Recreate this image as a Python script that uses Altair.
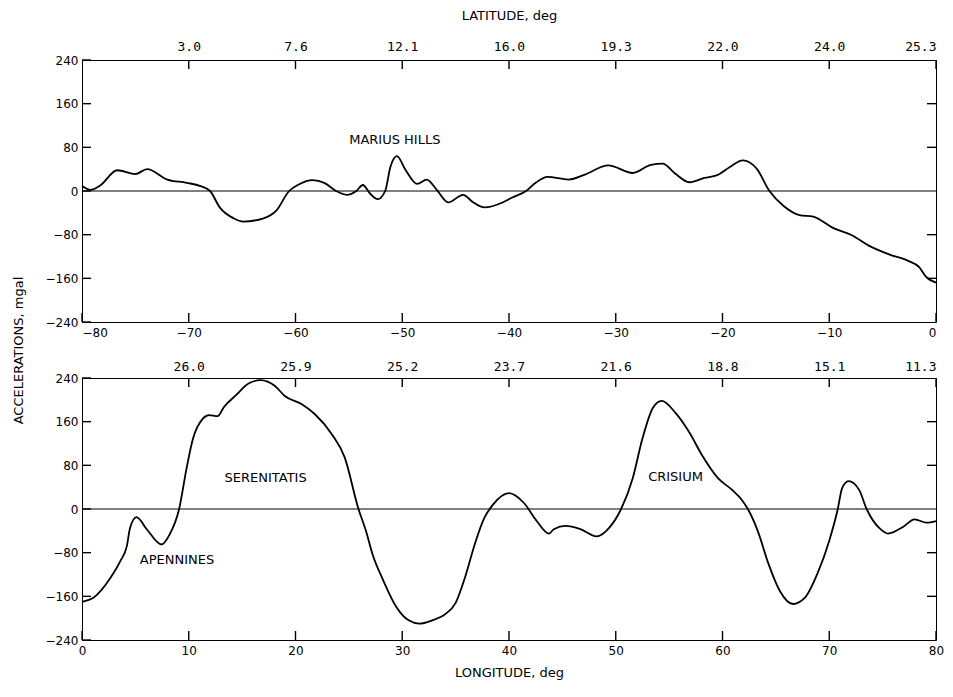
import altair as alt
import pandas as pd

# ---- data ----
# upper panel: longitude (deg) vs acceleration (mgal)
top_lon = [-80, -79.2, -78.3, -76.7, -75.0, -73.9, -72.0, -70.2, -68.9, -68.0, -67.1, -65.8,
           -64.9, -63.0, -61.8, -60.6, -59.7, -58.4, -57.3, -56.2, -55.2, -54.3, -53.7, -53.0,
           -52.3, -51.6, -51.1, -50.5, -49.7, -48.6, -47.7, -46.8, -45.7, -44.3, -43.4, -42.3,
           -40.6, -39.7, -38.4, -37.5, -36.4, -34.4, -32.9, -30.7, -28.4, -26.7, -25.6, -24.5,
           -23.1, -21.7, -20.5, -19.3, -18.1, -16.8, -15.6, -14.3, -12.8, -11.5, -9.7, -7.8,
           -6.3, -4.4, -2.6, -1.6, -0.9, 0]
top_acc = [9, 2, 10, 38, 31, 40, 21, 15, 9, 0, -30, -50,
           -56, -50, -36, 0, 12, 20, 15, 0, -7, 0, 11, -5,
           -15, 0, 45, 64, 39, 13, 21, 3, -21, -7, -20, -30,
           -21, -12, 0, 15, 26, 21, 30, 47, 33, 48, 50, 33,
           16, 24, 29, 44, 56, 41, 0, -27, -44, -47, -67, -82,
           -100, -116, -128, -139, -158, -168]

# lower panel
bot_lon = [0, 1.1, 2.7, 3.6, 4.2, 4.5, 5.1, 6.1, 7.45, 8.2, 9.1, 9.8, 10.4, 11.3, 11.9, 12.7,
           13.3, 14.4, 15.6, 16.7, 18.1, 19.0, 20.6, 21.8, 23.4, 24.6, 25.9, 26.6, 27.2, 28.2,
           29.4, 30.6, 31.6, 32.8, 34.0, 35.0, 35.9, 36.8, 37.7, 38.5, 40.0, 41.4, 42.6, 43.75,
           44.2, 45.3, 46.7, 48.2, 49.4, 50.5, 51.6, 52.5, 53.5, 54.3, 55.6, 56.9, 58.1, 59.6,
           60.9, 61.8, 62.4, 63.3, 64.3, 65.4, 66.6, 67.7, 68.9, 70.0, 70.8, 71.2, 71.8, 72.8,
           73.5, 74.8, 75.5, 76.9, 78.0, 79.1, 80]
bot_acc = [-170, -162, -125, -95, -68, -35, -15, -38, -65, -47, 0, 75, 129, 165, 172, 170,
           187, 208, 230, 236, 225, 207, 192, 174, 137, 95, 0, -40, -82, -130,
           -178, -204, -210, -204, -193, -172, -124, -64, -16, 8, 29, 11, -22, -45,
           -37, -31, -37, -50, -34, 0, 57, 129, 186, 198, 176, 140, 98, 56,
           35, 17, -1, -40, -100, -151, -174, -163, -118, -58, 0, 38, 51, 35,
           0, -37, -45, -33, -19, -25, -22]

acc_ticks = [-240, -160, -80, 0, 80, 160, 240]
right_ticks = [-160, -80, 80, 160]
top_lon_ticks = [-80, -70, -60, -50, -40, -30, -20, -10, 0]
bot_lon_ticks = [0, 10, 20, 30, 40, 50, 60, 70, 80]
top_lat_pos = [-70, -60, -50, -40, -30, -20, -10, 0]
top_lat_labels = ["3.0", "7.6", "12.1", "16.0", "19.3", "22.0", "24.0", "25.3"]
bot_lat_pos = [10, 20, 30, 40, 50, 60, 70, 80]
bot_lat_labels = ["26.0", "25.9", "25.2", "23.7", "21.6", "18.8", "15.1", "11.3"]

top_notes = ["MARIUS HILLS"]
top_notes_lon = [-50.7]
top_notes_acc = [93]
bot_notes = ["SERENITATIS", "APENNINES", "CRISIUM"]
bot_notes_lon = [17.2, 8.9, 55.6]
bot_notes_acc = [57, -93, 59]

FONT = "DejaVu Sans"
MONO = "DejaVu Sans Mono"
W, H = 854, 262
TICK = 9


def lat_expr(pos, labels):
    s = "''"
    for p, l in zip(reversed(pos), reversed(labels)):
        s = f"datum.value == {p} ? '{l}' : " + s
    return s


def panel(lon, acc, notes, notes_lon, notes_acc, lon_ticks, lat_pos, lat_labels,
          domain, is_top):
    xs = alt.Scale(domain=domain, nice=False, zero=False)
    ys = alt.Scale(domain=[-240, 240], nice=False, zero=False)
    common = dict(domain=False, grid=False, ticks=False, labelColor="black")

    bottom_axis = alt.Axis(orient="bottom", values=lon_ticks, format="d",
                           labelFont=FONT, labelFontSize=12, labelPadding=5,
                           labelFlush=is_top,
                           title=None if is_top else "LONGITUDE, deg",
                           titleFont=FONT, titleFontSize=13, titleFontWeight="normal",
                           titleColor="black", titlePadding=10, **common)
    if is_top:
        left_axis = alt.Axis(orient="left", values=acc_ticks, format="d",
                             labelFont=FONT, labelFontSize=12, labelPadding=4,
                             title="ACCELERATIONS, mgal", titleFont=FONT,
                             titleFontSize=13, titleFontWeight="normal",
                             titleColor="black", titleX=-57, titleY=290, **common)
        top_axis = alt.Axis(orient="top", values=lat_pos, labelExpr=lat_expr(lat_pos, lat_labels),
                            labelFont=MONO, labelFontSize=13, labelPadding=7,
                            labelFlush=True, title="LATITUDE, deg", titleFont=FONT,
                            titleFontSize=13, titleFontWeight="normal", titleColor="black",
                            titlePadding=18, **common)
    else:
        left_axis = alt.Axis(orient="left", values=acc_ticks, format="d",
                             labelFont=FONT, labelFontSize=12, labelPadding=4,
                             title=None, **common)
        top_axis = alt.Axis(orient="top", values=lat_pos, labelExpr=lat_expr(lat_pos, lat_labels),
                            labelFont=MONO, labelFontSize=13, labelPadding=5,
                            labelFlush=True, title=None, **common)
    right_axis = alt.Axis(orient="right", values=right_ticks, labels=False, title=None, **common)

    df = pd.DataFrame({"lon": lon, "acc": acc})
    line = alt.Chart(df).mark_line(color="black", strokeWidth=1.8,
                                   interpolate="monotone").encode(
        x=alt.X("lon:Q", scale=xs, axis=bottom_axis),
        y=alt.Y("acc:Q", scale=ys, axis=left_axis),
    )
    zero = alt.Chart(pd.DataFrame({"acc": [0]})).mark_rule(
        color="black", strokeWidth=1.2).encode(
        y=alt.Y("acc:Q", scale=ys, axis=None))
    ndf = pd.DataFrame({"lon": notes_lon, "acc": notes_acc, "label": notes})
    text = alt.Chart(ndf).mark_text(font=FONT, fontSize=13, color="black").encode(
        x=alt.X("lon:Q", scale=xs, axis=top_axis),
        y=alt.Y("acc:Q", scale=ys, axis=right_axis),
        text="label:N",
    )

    # inward-pointing tick marks on all four sides
    tk = dict(color="black", strokeWidth=1.4)
    xb = alt.Chart(pd.DataFrame({"lon": lon_ticks})).mark_rule(**tk).encode(
        x=alt.X("lon:Q", scale=xs, axis=None), y=alt.value(H), y2=alt.value(H - TICK))
    xt = alt.Chart(pd.DataFrame({"lon": lat_pos})).mark_rule(**tk).encode(
        x=alt.X("lon:Q", scale=xs, axis=None), y=alt.value(0), y2=alt.value(TICK))
    yl = alt.Chart(pd.DataFrame({"acc": acc_ticks})).mark_rule(**tk).encode(
        y=alt.Y("acc:Q", scale=ys, axis=None), x=alt.value(0), x2=alt.value(TICK))
    yr = alt.Chart(pd.DataFrame({"acc": right_ticks})).mark_rule(**tk).encode(
        y=alt.Y("acc:Q", scale=ys, axis=None), x=alt.value(W), x2=alt.value(W - TICK))

    return alt.layer(line, zero, text, xb, xt, yl, yr).resolve_axis(
        x="independent", y="independent").properties(width=W, height=H)


top = panel(top_lon, top_acc, top_notes, top_notes_lon, top_notes_acc, top_lon_ticks,
            top_lat_pos, top_lat_labels, [-80, 0], True)
bottom = panel(bot_lon, bot_acc, bot_notes, bot_notes_lon, bot_notes_acc, bot_lon_ticks,
               bot_lat_pos, bot_lat_labels, [0, 80], False)

chart = alt.vconcat(top, bottom, spacing=56, bounds="flush").properties(
    padding={"left": 3, "top": 0, "right": 0, "bottom": 0},
    background="white",
).configure_view(stroke="black", strokeWidth=1)

chart.save("out.html", embed_options={"renderer": "svg", "actions": False})
